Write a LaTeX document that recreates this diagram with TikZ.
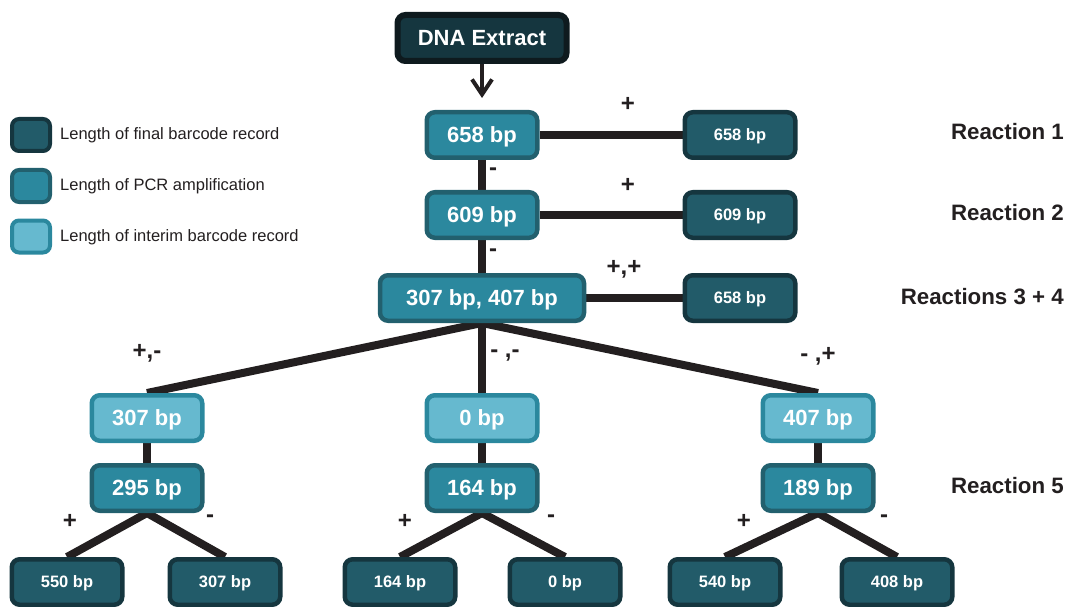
\documentclass[tikz,border=0pt]{standalone}
\usepackage{fontspec}
\setmainfont{Liberation Sans}
\usetikzlibrary{arrows.meta,backgrounds}
\definecolor{finfill}{HTML}{225B69}
\definecolor{finedge}{HTML}{15363F}
\definecolor{pcrfill}{HTML}{2B889E}
\definecolor{pcredge}{HTML}{22606E}
\definecolor{intfill}{HTML}{66B9CF}
\definecolor{intedge}{HTML}{2B889E}
\definecolor{dnafill}{HTML}{15363F}
\definecolor{dnaedge}{HTML}{0E1A1E}
\definecolor{ink}{HTML}{231F20}
\begin{document}
\begin{tikzpicture}[x=1pt,y=-1pt,
  box/.style={rounded corners=8pt, line width=4.5pt, text=white,
    font=\bfseries\fontsize{22}{24}\selectfont, text depth=0pt,
    minimum width=110.5pt, minimum height=45.5pt, inner sep=0pt},
  fin/.style={box, fill=finfill, draw=finedge, font=\bfseries\fontsize{16.5}{19}\selectfont},
  pcr/.style={box, fill=pcrfill, draw=pcredge},
  intr/.style={box, fill=intfill, draw=intedge},
  legbox/.style={rounded corners=7pt, line width=4pt, minimum width=38pt, minimum height=32pt, inner sep=0pt},
  legtext/.style={anchor=west, text=ink, font=\fontsize{16.5}{19}\selectfont, inner sep=0pt},
  sign/.style={text=ink, font=\bfseries\fontsize{24}{26}\selectfont, inner sep=0pt},
  react/.style={anchor=east, text=ink, font=\bfseries\fontsize{22.3}{24}\selectfont, inner sep=0pt},
  link/.style={draw=ink, line width=8pt},
]
\useasboundingbox (0,0) rectangle (1066,607);

% legend
\node[legbox, fill=finfill, draw=finedge] (lg1) at (31,135) {};
\node[legbox, fill=pcrfill, draw=pcredge] (lg2) at (31,186) {};
\node[legbox, fill=intfill, draw=intedge] (lg3) at (31,236.5) {};
\node[legtext] (lt1) at (60,135) {Length of final barcode record};
\node[legtext] (lt2) at (60,186) {Length of PCR amplification};
\node[legtext] (lt3) at (60,237) {Length of interim barcode record};

% top
\node[box, fill=dnafill, draw=dnaedge, line width=6pt, minimum width=169pt, minimum height=46pt, font=\bfseries\fontsize{22}{24}\selectfont] (dna) at (482,38) {DNA Extract};

\node[pcr] (p1) at (482,135) {658 bp};
\node[fin] (f1) at (740,135) {658 bp};
\node[pcr] (p2) at (482,215) {609 bp};
\node[fin] (f2) at (740,215) {609 bp};
\node[pcr, minimum width=204pt] (p3) at (482,298) {307 bp, 407 bp};
\node[fin] (f3) at (740,298) {658 bp};

\node[react] (r1) at (1064,132) {Reaction 1};
\node[react] (r2) at (1064,213) {Reaction 2};
\node[react] (r3) at (1064,297) {Reactions 3 + 4};
\node[react] (r5) at (1064,486) {Reaction 5};

% interim row
\node[intr] (iA) at (147,418) {307 bp};
\node[intr] (iB) at (482,418) {0 bp};
\node[intr] (iC) at (818,418) {407 bp};

% pcr row
\node[pcr] (qA) at (147,488) {295 bp};
\node[pcr] (qB) at (482,488) {164 bp};
\node[pcr] (qC) at (818,488) {189 bp};

% final row
\node[fin] (b1) at (67,582) {550 bp};
\node[fin] (b2) at (225,582) {307 bp};
\node[fin] (b3) at (400,582) {164 bp};
\node[fin] (b4) at (565,582) {0 bp};
\node[fin] (b5) at (725,582) {540 bp};
\node[fin] (b6) at (897,582) {408 bp};

% signs
\node[sign] (s1) at (628,104) {+};
\node[sign] (s2) at (493,172) {-};
\node[sign] (s3) at (628,185) {+};
\node[sign] (s4) at (493,253) {-};
\node[sign] (s5) at (624,269) {+,+};
\node[sign] (s6) at (147,353) {+,-};
\node[sign] (s7) at (505,356) {- ,-};
\node[sign] (s8) at (818,356) {- ,+};
\node[sign] (s9) at (70,521) {+};
\node[sign] (s10) at (210,519) {-};
\node[sign] (s11) at (405,521) {+};
\node[sign] (s12) at (551,519) {-};
\node[sign] (s13) at (744,521) {+};
\node[sign] (s14) at (884,519) {-};

\draw[draw=ink, line width=4pt, -{Straight Barb[length=15pt,width=20pt,line width=4pt]}] (dna.south) -- ([yshift=12pt]p1.north);

\begin{scope}[on background layer]
\draw[link] (p1.east) -- (f1.west);
\draw[link] (p2.east) -- (f2.west);
\draw[link] (p3.east) -- (f3.west);
\draw[link] (p1.south) -- (p2.north);
\draw[link] (p2.south) -- (p3.north);
\draw[link] (p3.south) -- (iA.north);
\draw[link] (p3.south) -- (iB.north);
\draw[link] (p3.south) -- (iC.north);
\draw[link] (iA.south) -- (qA.north);
\draw[link] (iB.south) -- (qB.north);
\draw[link] (iC.south) -- (qC.north);
\draw[link] (qA.south) -- (b1.north);
\draw[link] (qA.south) -- (b2.north);
\draw[link] (qB.south) -- (b3.north);
\draw[link] (qB.south) -- (b4.north);
\draw[link] (qC.south) -- (b5.north);
\draw[link] (qC.south) -- (b6.north);
\end{scope}
\end{tikzpicture}
\end{document}
